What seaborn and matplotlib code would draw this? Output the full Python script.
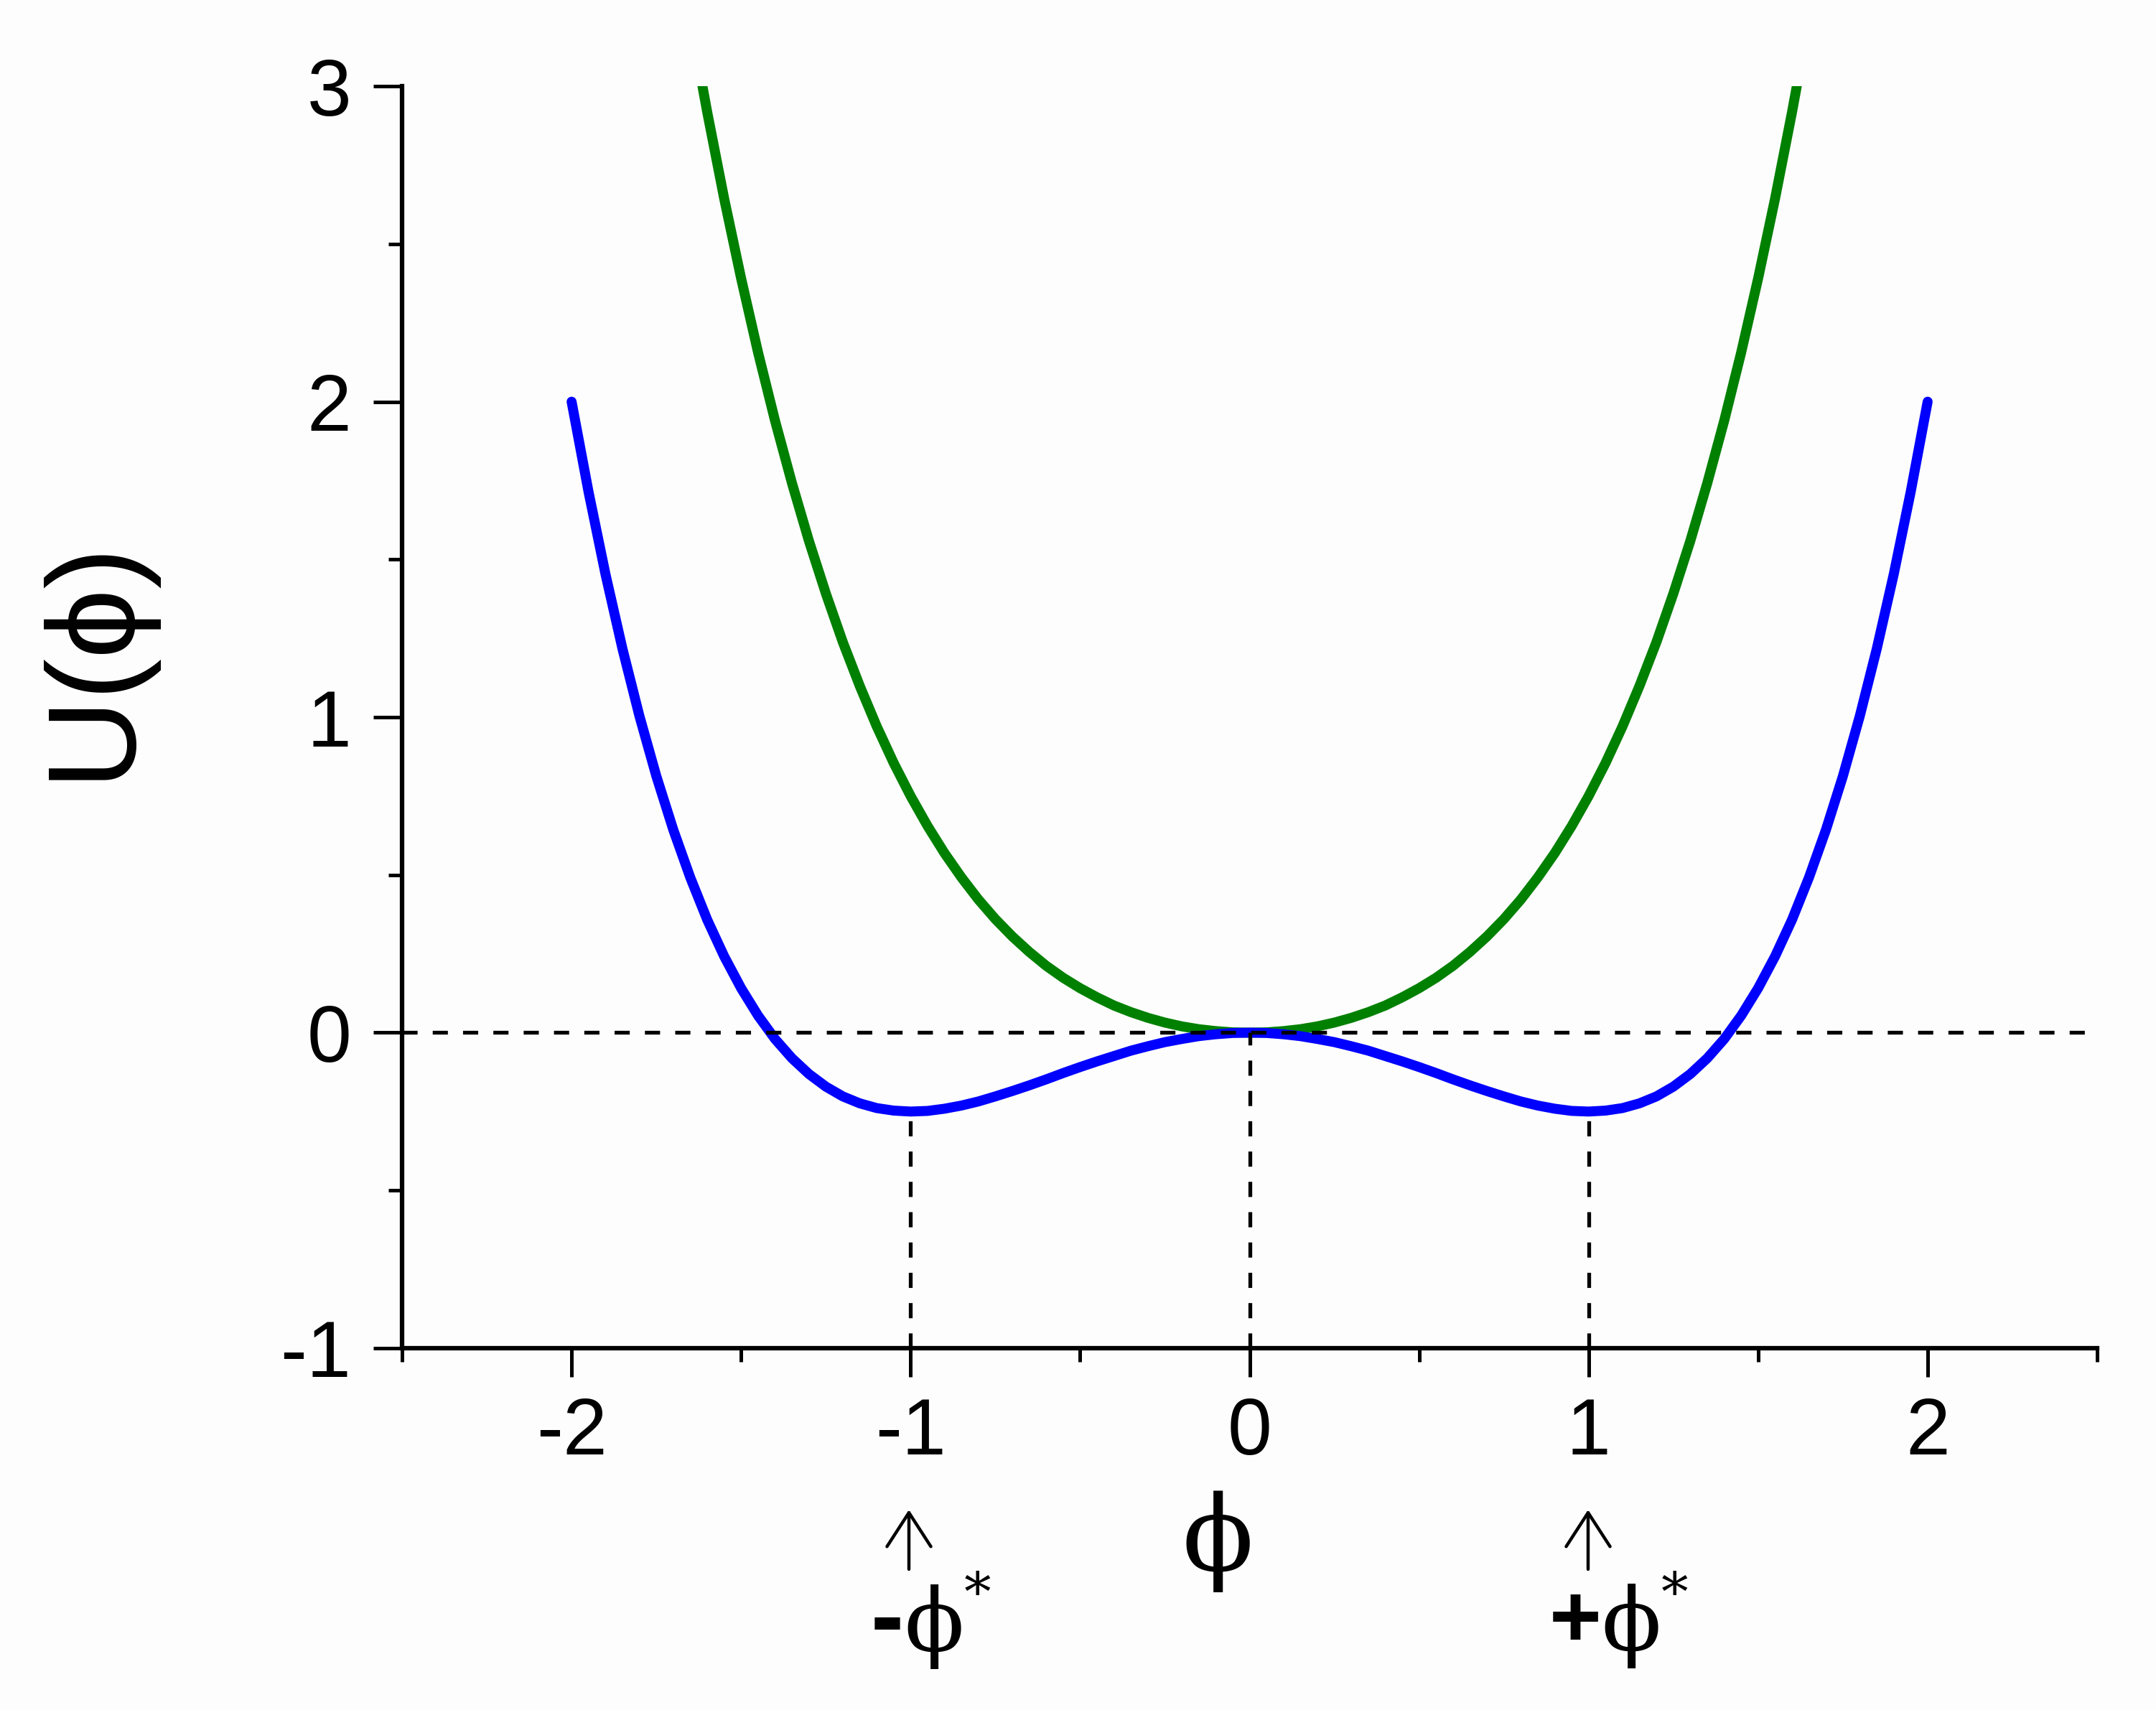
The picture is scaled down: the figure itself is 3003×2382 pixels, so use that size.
import numpy as np
import pandas as pd
import matplotlib
matplotlib.use('Agg')
import matplotlib.pyplot as plt
import seaborn as sns

# Valores (potencial de doble pozo y potencial de un pozo)
phi_azul = [-2.00, -1.95, -1.90, -1.85, -1.80, -1.75, -1.70, -1.65, -1.60, -1.55,
            -1.50, -1.45, -1.40, -1.35, -1.30, -1.25, -1.20, -1.15, -1.10, -1.05,
            -1.00, -0.95, -0.90, -0.85, -0.80, -0.75, -0.70, -0.65, -0.60, -0.55,
            -0.50, -0.45, -0.40, -0.35, -0.30, -0.25, -0.20, -0.15, -0.10, -0.05,
            0.00, 0.05, 0.10, 0.15, 0.20, 0.25, 0.30, 0.35, 0.40, 0.45,
            0.50, 0.55, 0.60, 0.65, 0.70, 0.75, 0.80, 0.85, 0.90, 0.95,
            1.00, 1.05, 1.10, 1.15, 1.20, 1.25, 1.30, 1.35, 1.40, 1.45,
            1.50, 1.55, 1.60, 1.65, 1.70, 1.75, 1.80, 1.85, 1.90, 1.95, 2.00]
u_azul = [2.000, 1.714, 1.453, 1.217, 1.004, 0.813, 0.643, 0.492, 0.358, 0.242,
          0.141, 0.054, -0.020, -0.081, -0.131, -0.171, -0.202, -0.224, -0.239, -0.247,
          -0.250, -0.248, -0.241, -0.231, -0.218, -0.202, -0.185, -0.167, -0.148, -0.128,
          -0.109, -0.091, -0.074, -0.057, -0.043, -0.030, -0.020, -0.011, -0.005, -0.001,
          0.000, -0.001, -0.005, -0.011, -0.020, -0.030, -0.043, -0.057, -0.074, -0.091,
          -0.109, -0.128, -0.148, -0.167, -0.185, -0.202, -0.218, -0.231, -0.241, -0.248,
          -0.250, -0.247, -0.239, -0.224, -0.202, -0.171, -0.131, -0.081, -0.020, 0.054,
          0.141, 0.242, 0.358, 0.492, 0.643, 0.813, 1.004, 1.217, 1.453, 1.714, 2.000]

phi_verde = [-1.614, -1.60, -1.55, -1.50, -1.45, -1.40, -1.35, -1.30, -1.25, -1.20,
             -1.15, -1.10, -1.05, -1.00, -0.95, -0.90, -0.85, -0.80, -0.75, -0.70,
             -0.65, -0.60, -0.55, -0.50, -0.45, -0.40, -0.35, -0.30, -0.25, -0.20,
             -0.15, -0.10, -0.05, 0.00, 0.05, 0.10, 0.15, 0.20, 0.25, 0.30,
             0.35, 0.40, 0.45, 0.50, 0.55, 0.60, 0.65, 0.70, 0.75, 0.80,
             0.85, 0.90, 0.95, 1.00, 1.05, 1.10, 1.15, 1.20, 1.25, 1.30,
             1.35, 1.40, 1.45, 1.50, 1.55, 1.60, 1.614]
u_verde = [3.000, 2.918, 2.644, 2.391, 2.156, 1.940, 1.742, 1.559, 1.392, 1.238,
           1.099, 0.971, 0.855, 0.750, 0.655, 0.569, 0.492, 0.422, 0.360, 0.305,
           0.256, 0.212, 0.174, 0.141, 0.112, 0.086, 0.065, 0.047, 0.032, 0.020,
           0.011, 0.005, 0.001, 0.000, 0.001, 0.005, 0.011, 0.020, 0.032, 0.047,
           0.065, 0.086, 0.112, 0.141, 0.174, 0.212, 0.256, 0.305, 0.360, 0.422,
           0.492, 0.569, 0.655, 0.750, 0.855, 0.971, 1.099, 1.238, 1.392, 1.559,
           1.742, 1.940, 2.156, 2.391, 2.644, 2.918, 3.000]

# Líneas guía: mínimos y máximo local
guia_x = [-1, 0, 1]
guia_u = [-0.25, 0.0, -0.25]

ticks_x = [-2, -1, 0, 1, 2]
ticks_y = [-1, 0, 1, 2, 3]

df_azul = pd.DataFrame({'phi': phi_azul, 'U': u_azul})
df_verde = pd.DataFrame({'phi': phi_verde, 'U': u_verde})

sns.set_theme(style='ticks')
plt.rcParams['font.family'] = ['Liberation Sans', 'DejaVu Sans']
plt.rcParams['text.color'] = 'black'

fig = plt.figure(figsize=(30.03, 23.82), dpi=100, facecolor='#fdfdfd')
ax = fig.add_axes([0.1865, 0.2116, 0.9727 - 0.1865, 0.9496 - 0.2116])
ax.set_facecolor('#fdfdfd')

sns.lineplot(data=df_verde, x='phi', y='U', color='#008000',
             sort=False, estimator=None, ax=ax, zorder=2)
sns.lineplot(data=df_azul, x='phi', y='U', color='#0000ff',
             sort=False, estimator=None, ax=ax, zorder=3)
for linea in ax.lines:
    linea.set_linewidth(10)
    linea.set_solid_capstyle('round')
    linea.set_solid_joinstyle('round')

guion = (0, (4, 4))
ax.plot([-2.5, 2.5], [0, 0], color='black', lw=3.8, linestyle=guion, zorder=4)
ax.vlines(guia_x, -1, guia_u, colors='black', lw=3.8, linestyles=[guion], zorder=4)

ax.set_xlim(-2.5, 2.5)
ax.set_ylim(-1, 3)
ax.set_xticks(ticks_x)
ax.set_xticklabels([str(t) for t in ticks_x])
ax.set_yticks(ticks_y)
ax.set_yticklabels([str(t) for t in ticks_y])
ax.set_xticks(np.arange(-2.5, 2.6, 1.0), minor=True)
ax.set_yticks(np.arange(-0.5, 3.0, 1.0), minor=True)

sns.despine(ax=ax)
for lado in ['left', 'bottom']:
    ax.spines[lado].set_linewidth(4.5)
    ax.spines[lado].set_color('black')
ax.tick_params(which='major', length=29, width=3.6, direction='out', color='black',
               labelsize=80, labelcolor='black')
ax.tick_params(axis='x', which='major', pad=19)
ax.tick_params(axis='y', which='major', pad=22)
ax.tick_params(which='minor', length=14, width=3.6, direction='out', color='black')

ax.set_xlabel('')
ax.set_ylabel('')

W, H = 3003, 2382
def fx(px):
    return px / W
def fy(py):
    return 1 - py / H

fuentes = ['Liberation Sans', 'DejaVu Serif']
serif = ['DejaVu Serif']

# etiqueta del eje y (la phi cae en la fuente con serifa)
fig.text(fx(130), fy(917), 'U(\u03d5)', rotation=90, fontsize=125,
         ha='center', va='center', family=fuentes)

# etiqueta del eje x
fig.text(fx(1696), fy(2147), '\u03d5', fontsize=105, ha='center', va='center', family=serif)

# flechas hacia los mínimos
for xa in [1266, 2212]:
    ax.annotate('', xy=(fx(xa), fy(2103)), xytext=(fx(xa), fy(2186)),
                xycoords='figure fraction', textcoords='figure fraction',
                annotation_clip=False,
                arrowprops=dict(arrowstyle='->,head_length=1.7,head_width=1.1',
                                lw=3.2, color='black', mutation_scale=20,
                                shrinkA=0, shrinkB=0))

# etiquetas -phi* y +phi*: signo en negrita, phi y asterisco encadenados
for signo, xs, tam in [('-', 1236, 100), ('+', 2194, 90)]:
    t_signo = fig.text(fx(xs), fy(2262), signo, fontsize=tam, fontweight='bold',
                       ha='center', va='center')
    t_phi = ax.annotate('\u03d5', xy=(1.0, 0.47), xycoords=t_signo, xytext=(0, 0),
                        textcoords='offset points', fontsize=88, ha='left', va='center',
                        family=serif, annotation_clip=False)
    ax.annotate('*', xy=(1.0, 0.86), xycoords=t_phi, xytext=(0, 0),
                textcoords='offset points', fontsize=54, ha='left', va='center',
                family=serif, annotation_clip=False)

fig.savefig('out.png', dpi=100, facecolor=fig.get_facecolor())
